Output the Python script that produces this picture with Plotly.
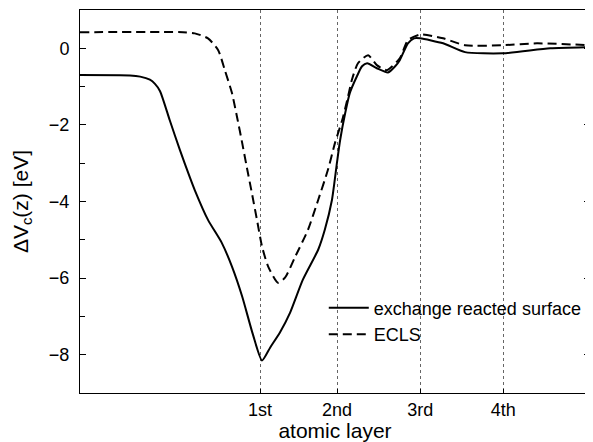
import plotly.graph_objects as go

# Data (x in arbitrary depth units, y in eV)
solid_x = [0.00, 0.98, 1.18, 1.37, 1.47, 1.57, 1.76, 1.96, 2.16, 2.25, 2.51, 2.78, 2.98, 3.18,
           3.39, 3.57, 3.73, 3.92, 4.12, 4.37, 4.67, 4.80, 4.94, 5.04, 5.10, 5.20, 5.29, 5.43,
           5.53, 5.63, 5.82, 6.04, 6.18, 6.27, 6.43, 6.55, 6.67, 7.12, 7.55, 8.29, 9.22, 10.0]
solid_y = [-0.70, -0.71, -0.74, -0.82, -0.93, -1.12, -1.88, -2.66, -3.39, -3.70, -4.48, -5.08,
           -5.70, -6.48, -7.47, -8.15, -7.81, -7.42, -6.90, -6.04, -5.26, -4.74, -3.96, -2.97,
           -2.40, -1.69, -1.17, -0.73, -0.47, -0.39, -0.52, -0.63, -0.47, -0.31, 0.13, 0.26,
           0.26, 0.13, -0.10, -0.13, 0.00, 0.03]

dash_x = [0.00, 2.02, 2.25, 2.51, 2.71, 2.84, 2.98, 3.08, 3.18, 3.27, 3.37, 3.47, 3.57, 3.69,
          3.88, 4.02, 4.22, 4.47, 4.67, 4.86, 5.00, 5.14, 5.24, 5.33, 5.45, 5.65, 5.82, 6.02,
          6.27, 6.43, 6.67, 7.12, 7.55, 8.29, 8.96, 10.0]
dash_y = [0.42, 0.42, 0.39, 0.26, -0.05, -0.57, -1.17, -1.80, -2.47, -3.10, -3.78, -4.48,
          -5.18, -5.70, -6.12, -5.99, -5.44, -4.74, -3.96, -3.18, -2.47, -1.88, -1.35, -0.83,
          -0.39, -0.18, -0.44, -0.57, -0.26, 0.21, 0.36, 0.26, 0.08, 0.08, 0.13, 0.08]

layer_pos = [3.53, 5.04, 6.67, 8.30]
layer_labels = ["1st", "2nd", "3rd", "4th"]
y_ticks = [-8, -6, -4, -2, 0]

FONT = "Liberation Sans, Arial, sans-serif"

fig = go.Figure()
fig.add_trace(go.Scatter(x=solid_x, y=solid_y, mode="lines", name="exchange reacted surface",
                         line=dict(color="black", width=2, shape="spline", smoothing=0.6)))
fig.add_trace(go.Scatter(x=dash_x, y=dash_y, mode="lines", name="ECLS",
                         line=dict(color="black", width=2, dash="9px,5px", shape="spline", smoothing=0.6)))

# page body has an 8px default margin, so the figure is sized to compensate
fig.update_layout(
    width=585, height=434,
    margin=dict(l=72, r=3, t=2, b=49),
    plot_bgcolor="white", paper_bgcolor="white",
    font=dict(family=FONT, color="black", size=18),
    showlegend=True,
    legend=dict(x=0.478, y=0.27, xanchor="left", yanchor="top",
                bgcolor="rgba(0,0,0,0)", font=dict(size=18), itemwidth=40,
                tracegroupgap=0),
    xaxis=dict(range=[0, 10], tickvals=layer_pos, ticktext=layer_labels,
               showgrid=True, gridcolor="#666", griddash="dot", gridwidth=1,
               showline=True, linecolor="black", linewidth=1, mirror=True,
               ticks="inside", ticklen=4, tickcolor="black",
               zeroline=False, tickfont=dict(size=18), automargin=False,
               title=dict(text="atomic layer", font=dict(size=21), standoff=4)),
    yaxis=dict(range=[-9, 1], tickvals=y_ticks,
               showgrid=False, zeroline=False,
               showline=True, linecolor="black", linewidth=1, mirror="allticks",
               ticks="inside", ticklen=6, tickcolor="black",
               minor=dict(dtick=2, tick0=-1, ticks="inside", ticklen=5, tickcolor="black"),
               tickfont=dict(size=18), ticklabelstandoff=6, automargin=False,
               title=dict(text="ΔV<sub>c</sub>(z) [eV]", font=dict(size=21), standoff=14)),
)

fig.write_html("out.html")
